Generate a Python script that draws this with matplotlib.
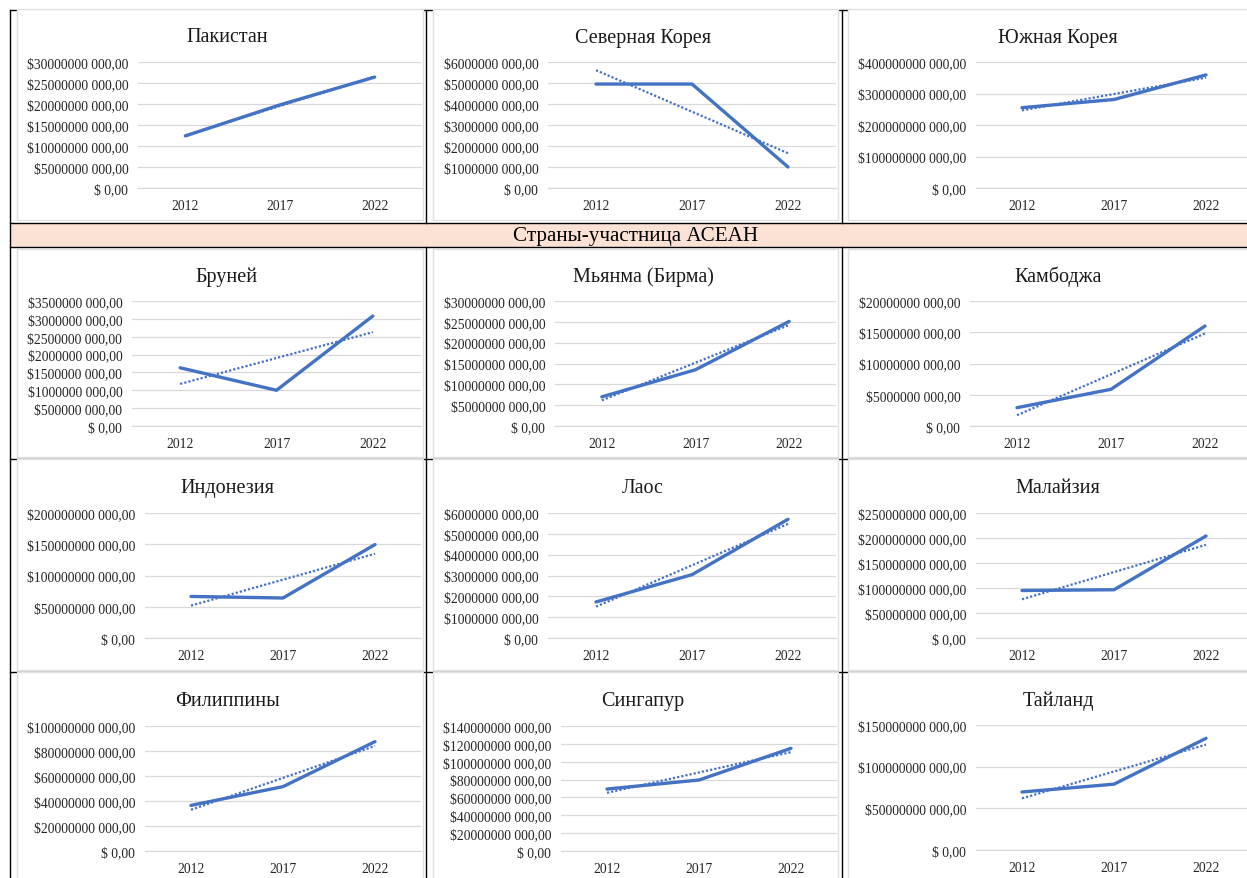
import matplotlib
matplotlib.use("Agg")
import matplotlib.pyplot as plt
from matplotlib.patches import Rectangle
from matplotlib.lines import Line2D
from matplotlib.ticker import FuncFormatter
import numpy as np

plt.rcParams["font.family"] = ["Liberation Serif", "DejaVu Serif"]

# data: GDP-like values in billions of USD
years = ["2012", "2017", "2022"]
countries = ["Пакистан", "Северная Корея", "Южная Корея",
             "Бруней", "Мьянма (Бирма)", "Камбоджа",
             "Индонезия", "Лаос", "Малайзия",
             "Филиппины", "Сингапур", "Тайланд"]
pakistan = [12.4, 19.8, 26.4]
north_korea = [4.95, 4.95, 1.0]
south_korea = [255, 281, 359]
brunei = [1.63, 1.0, 3.08]
myanmar = [7.0, 13.5, 25.1]
cambodia = [2.93, 5.87, 16.0]
indonesia = [66.5, 64.0, 149.5]
laos = [1.73, 3.04, 5.7]
malaysia = [95, 96.5, 204]
philippines = [36.5, 51.5, 87.5]
singapore = [69.4, 79.5, 115]
thailand = [69.6, 79, 134]
series = [pakistan, north_korea, south_korea, brunei, myanmar, cambodia,
          indonesia, laos, malaysia, philippines, singapore, thailand]
y_max = [30, 6, 400, 3.5, 30, 20, 200, 6, 250, 100, 140, 150]
y_step = [5, 1, 100, 0.5, 5, 5, 50, 1, 50, 20, 20, 50]
band_title = "Страны-участница АСЕАН"

W, H = 1247, 879
fig = plt.figure(figsize=(W / 100, H / 100), dpi=100)
fig.patch.set_facecolor("white")

BLUE = "#4472C4"
GRID = "#D9D9D9"


def fx(px):
    return px / W


def fy(py):
    return 1 - py / H


def money(v, pos=None):
    n = int(round(v * 1e9))
    if n == 0:
        return "$ 0,00"
    return f"${n // 1000} {n % 1000:03d},00"


# table borders
def hline(y, x0, x1):
    fig.add_artist(Line2D([fx(x0), fx(x1)], [fy(y), fy(y)], color="black",
                          lw=1.0, zorder=-3, transform=fig.transFigure))


def vline(x, y0, y1):
    fig.add_artist(Line2D([fx(x), fx(x)], [fy(y0), fy(y1)], color="black",
                          lw=1.0, zorder=-3, transform=fig.transFigure))


fig.add_artist(Rectangle((fx(10), fy(248)), fx(1300), 24 / H, facecolor="#FBE2D5",
                         edgecolor="none", zorder=-4, transform=fig.transFigure))
for y in [11, 224, 248, 460, 673]:
    hline(y, 10, 1300)
vline(10, 11, 900)
for x in [426, 842]:
    vline(x, 11, 224)
    vline(x, 248, 900)
fig.text(fx(636), fy(237), band_title, ha="center", va="center", fontsize=15.2)

# chart frames: columns and rows in pixels
col_frames = [(17, 423), (433, 838), (848, 1270)]
row_frames = [(10, 221), (250, 458), (460, 671), (673, 900)]
title_x = [227, 643, 1058]
title_dy = 25
# plot areas (left, right, top, bottom) in pixels
plot_boxes = [(138, 422, 63, 189), (548, 836, 63, 189), (976, 1252, 63, 189),
              (132, 421, 302, 427), (555, 836, 302, 427), (970, 1252, 302, 427),
              (145, 421, 514, 639), (548, 836, 514, 639), (976, 1252, 514, 639),
              (145, 421, 727, 852), (561, 837, 727, 852), (976, 1252, 726, 851)]

for i in range(12):
    r, c = divmod(i, 3)
    x0, x1 = col_frames[c]
    y0, y1 = row_frames[r]
    fig.add_artist(Rectangle((fx(x0), fy(y1)), (x1 - x0) / W, (y1 - y0) / H,
                             facecolor="white", edgecolor="#E0E0E0", lw=1.0,
                             zorder=-1, transform=fig.transFigure))

    left, right, top, bottom = plot_boxes[i]
    ax = fig.add_axes([fx(left), fy(bottom), (right - left) / W, (bottom - top) / H])
    ax.set_facecolor("none")
    ax.set_zorder(1)

    vals = np.array(series[i], dtype=float)
    x = np.arange(len(years))
    # linear trend line, as in the spreadsheet
    k, b = np.polyfit(x, vals, 1)
    ax.plot(x, k * x + b, color=BLUE, lw=1.6, linestyle=(0, (1, 0.9)),
            dash_capstyle="butt", zorder=3)
    ax.plot(x, vals, color=BLUE, lw=2.4, solid_capstyle="round",
            solid_joinstyle="round", zorder=4)

    ax.set_xlim(-0.5, 2.5)
    ax.set_ylim(0, y_max[i])
    ax.set_yticks(np.arange(0, y_max[i] + y_step[i] / 2, y_step[i]))
    ax.yaxis.set_major_formatter(FuncFormatter(money))
    ax.set_xticks(x)
    ax.set_xticklabels(years)
    ax.tick_params(length=0, labelsize=9.8, colors="#262626", pad=7)
    ax.tick_params(axis="x", pad=8)
    ax.grid(axis="y", color=GRID, lw=0.9)
    ax.set_axisbelow(True)
    for s in ["top", "right", "left"]:
        ax.spines[s].set_visible(False)
    ax.spines["bottom"].set_color(GRID)
    ax.spines["bottom"].set_linewidth(0.9)

    fig.text(fx(title_x[c]), fy(top - title_dy), countries[i], ha="center",
             va="center", fontsize=14.5, color="#1a1a1a")

fig.savefig("out.png", dpi=100)
